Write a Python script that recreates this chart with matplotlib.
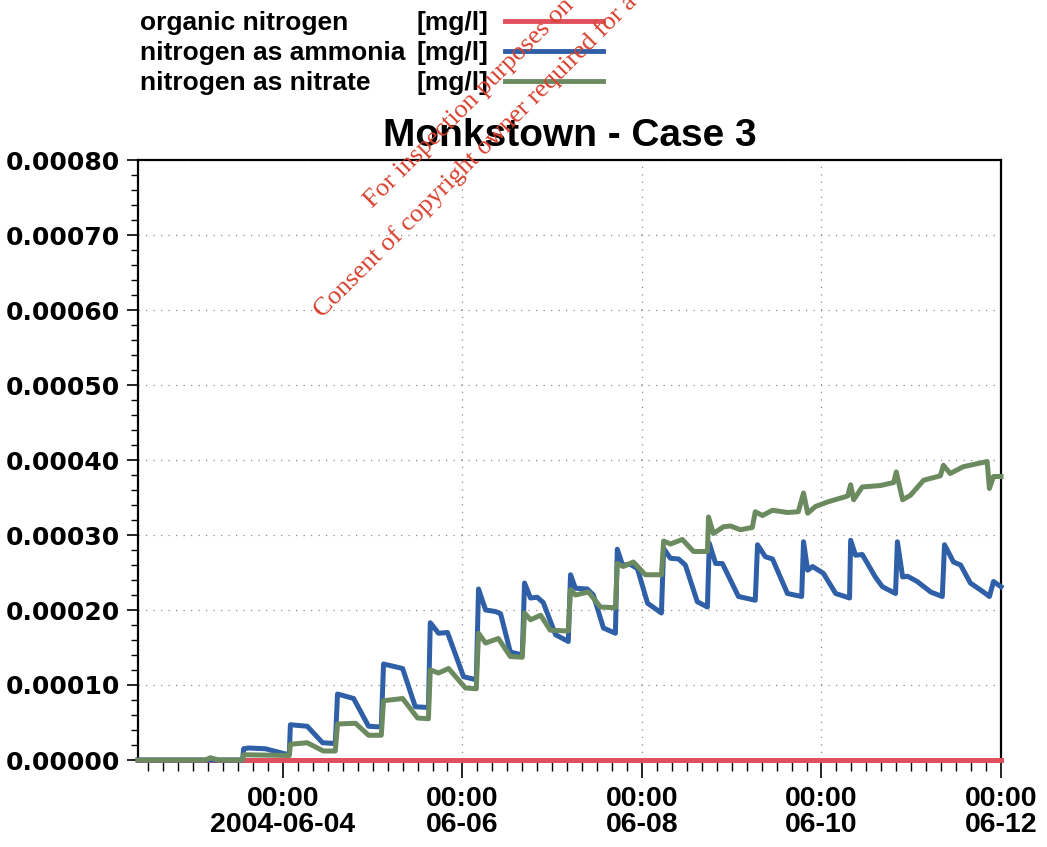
import matplotlib
matplotlib.use("Agg")
import matplotlib.pyplot as plt
import matplotlib.dates as mdates
from matplotlib.lines import Line2D
from matplotlib.ticker import MultipleLocator, FormatStrFormatter
import numpy as np
import pandas as pd

# time axis: hours after 2004-06-04 00:00, values in units of 1e-4 mg/l
BASE = pd.Timestamp("2004-06-04 00:00")
SCALE = 1e-4

ammonia_h = [-38.75, -10.8, -10.5, -9.2, -4.7, 0.7, 1.7, 2.0, 6.5, 10.6, 14.0, 14.6, 18.9, 22.9,
             26.3, 26.9, 32.0, 35.4, 38.9, 39.4, 41.6, 44.0, 48.3, 51.7, 52.3, 54.2, 56.8, 58.2,
             60.8, 64.0, 64.6, 66.2, 68.0, 69.6, 72.9, 76.3, 76.9, 78.2, 81.4, 83.0, 85.7, 88.9,
             89.4, 90.8, 92.9, 94.8, 97.5, 101.2, 101.8, 103.6, 105.8, 107.6, 110.8, 113.5, 114.0,
             115.7, 117.5, 121.8, 126.3, 126.9, 129.0, 130.9, 134.9, 138.7, 139.2, 140.3, 141.6,
             144.5, 147.8, 151.5, 151.8, 153.1, 154.9, 158.4, 160.3, 163.8, 164.3, 165.7, 167.0,
             169.6, 173.2, 176.3, 176.9, 179.3, 181.2, 183.8, 187.3, 188.9, 190.0, 192.0]
ammonia_v = [0.0, 0.0, 0.15, 0.16, 0.15, 0.08, 0.08, 0.47, 0.45, 0.23, 0.22, 0.88, 0.82, 0.45,
             0.44, 1.28, 1.22, 0.71, 0.70, 1.83, 1.69, 1.70, 1.11, 1.07, 2.28, 2.00, 1.98, 1.95,
             1.44, 1.40, 2.36, 2.16, 2.17, 2.10, 1.67, 1.58, 2.47, 2.29, 2.28, 2.20, 1.76, 1.69,
             2.81, 2.60, 2.61, 2.55, 2.09, 1.96, 2.82, 2.69, 2.68, 2.60, 2.11, 2.04, 2.89,
             2.62, 2.62, 2.18, 2.13, 2.87, 2.71, 2.68, 2.22, 2.18, 2.91, 2.53, 2.58,
             2.49, 2.22, 2.16, 2.93, 2.73, 2.74, 2.44, 2.31, 2.22, 2.91, 2.44, 2.45,
             2.38, 2.24, 2.18, 2.87, 2.64, 2.60, 2.36, 2.24, 2.18, 2.38, 2.31]

nitrate_h = [-38.75, -20.7, -19.4, -17.2, -10.8, -10.5, 1.7, 2.0, 6.5, 10.8, 14.0, 14.6, 19.4, 22.9,
             26.3, 26.9, 32.0, 36.0, 38.9, 39.4, 41.6, 44.3, 48.8, 51.7, 52.3, 54.2, 57.6, 60.8,
             64.0, 64.6, 66.2, 68.9, 71.5, 76.3, 76.9, 78.2, 81.7, 84.9, 88.9, 89.4, 91.0, 93.7,
             96.9, 101.2, 101.8, 103.6, 106.8, 109.8, 113.5, 113.8, 115.1, 117.8, 119.7, 122.3,
             125.5, 126.3, 128.2, 130.9, 134.9, 137.8, 139.2, 140.3, 142.4, 145.6, 151.0, 151.8,
             152.6, 154.9, 159.8, 163.3, 164.0, 165.7, 167.8, 171.3, 175.8, 176.6, 178.4, 181.9,
             188.3, 188.9, 190.0, 192.0]
nitrate_v = [0.0, 0.0, 0.03, 0.0, 0.0, 0.07, 0.06, 0.21, 0.23, 0.12, 0.12, 0.48, 0.49, 0.33,
             0.33, 0.79, 0.82, 0.56, 0.55, 1.20, 1.16, 1.22, 0.96, 0.95, 1.69, 1.56, 1.62, 1.38,
             1.37, 1.96, 1.87, 1.93, 1.73, 1.72, 2.27, 2.20, 2.24, 2.04, 2.03, 2.62, 2.58, 2.64,
             2.47, 2.47, 2.92, 2.88, 2.94, 2.78, 2.78, 3.24, 3.02, 3.11, 3.12, 3.07,
             3.10, 3.31, 3.26, 3.33, 3.30, 3.31, 3.56, 3.29, 3.38, 3.44, 3.52, 3.67,
             3.47, 3.64, 3.66, 3.70, 3.84, 3.47, 3.53, 3.73, 3.79, 3.93, 3.82, 3.91,
             3.98, 3.62, 3.78, 3.78]

organic_h = [-38.75, 192.0]
organic_v = [0.0, 0.0]

series_names = ["organic nitrogen", "nitrogen as ammonia", "nitrogen as nitrate"]
series_colors = ["#e04f5c", "#2f5fa6", "#6c8a5f"]
unit_label = "[mg/l]"

tick_dates = ["2004-06-04", "2004-06-06", "2004-06-08", "2004-06-10", "2004-06-12"]
tick_labels = ["00:00\n2004-06-04", "00:00\n06-06", "00:00\n06-08", "00:00\n06-10", "00:00\n06-12"]
y_ticks = [0.0, 0.0001, 0.0002, 0.0003, 0.0004, 0.0005, 0.0006, 0.0007, 0.0008]
x_start = "2004-06-02 09:15"
x_end = "2004-06-12 00:00"
title = "Monkstown - Case 3"
# only the part of the stamp that is visible on the page
watermark = ["For inspection purposes on",
             "Consent of copyright owner required for a"]


def to_time(hours):
    return BASE + pd.to_timedelta(np.array(hours), unit="h")


plt.rcParams['font.family'] = ['Liberation Sans', 'DejaVu Sans']
plt.rcParams['font.weight'] = 'bold'

W, H = 1047, 847
fig = plt.figure(figsize=(W / 100, H / 100), dpi=100)
ax = fig.add_axes([138 / W, 1 - 760 / H, (1001 - 138) / W, 600 / H])

series = [(organic_h, organic_v), (ammonia_h, ammonia_v), (nitrate_h, nitrate_v)]
for (h, v), c in zip(series, series_colors):
    ax.plot(to_time(h), np.array(v) * SCALE, color=c, lw=3.6, solid_joinstyle='round',
            clip_on=False, zorder=3)

ax.set_xlim(pd.Timestamp(x_start), pd.Timestamp(x_end))
ax.set_ylim(0, 0.0008)

ax.set_xticks([pd.Timestamp(d) for d in tick_dates])
ax.set_xticklabels(tick_labels, linespacing=1.0)
ax.xaxis.set_minor_locator(mdates.HourLocator(byhour=range(0, 24, 4)))
ax.set_yticks(y_ticks)
ax.yaxis.set_major_formatter(FormatStrFormatter('%.5f'))
ax.yaxis.set_minor_locator(MultipleLocator(0.00002))

ax.tick_params(axis='x', which='major', length=13, width=1.2, pad=6, labelsize=20.5)
ax.tick_params(axis='x', which='minor', length=8, width=1.0)
ax.tick_params(axis='y', which='major', length=8, width=1.2, pad=5, labelsize=18,
               labelfontfamily='DejaVu Sans')
ax.tick_params(axis='y', which='minor', length=5, width=1.0)

ax.grid(True, which='major', color='#8a8a8a', linestyle=(0, (1, 5)), lw=0.9)
ax.xaxis.get_gridlines()[0].set_visible(False)
for s in ax.spines.values():
    s.set_linewidth(1.6)

ax.set_title(title, fontsize=28, fontweight='bold', pad=10)

# legend block at top-left
rows_y = [23, 53, 83]
for name, c, ry in zip(series_names, series_colors, rows_y):
    fy = 1 - ry / H
    fig.text(140 / W, fy, name, fontsize=19, fontweight='bold', va='center', ha='left')
    fig.text(417 / W, fy, unit_label, fontsize=19, fontweight='bold', va='center', ha='left')
    fig.add_artist(Line2D([505 / W, 603 / W], [fy + 0.002, fy + 0.002], color=c, lw=3.5,
                          transform=fig.transFigure))

# watermark
wm_starts = [(372, 208), (322, 318)]
for txt, (px, py) in zip(watermark, wm_starts):
    fig.text(px / W, 1 - py / H, txt, fontsize=19, color='#d8402e', rotation=45,
             rotation_mode='anchor', ha='left', va='baseline', family='Liberation Serif',
             fontweight='normal', zorder=10)

fig.savefig("out.png", dpi=100)
